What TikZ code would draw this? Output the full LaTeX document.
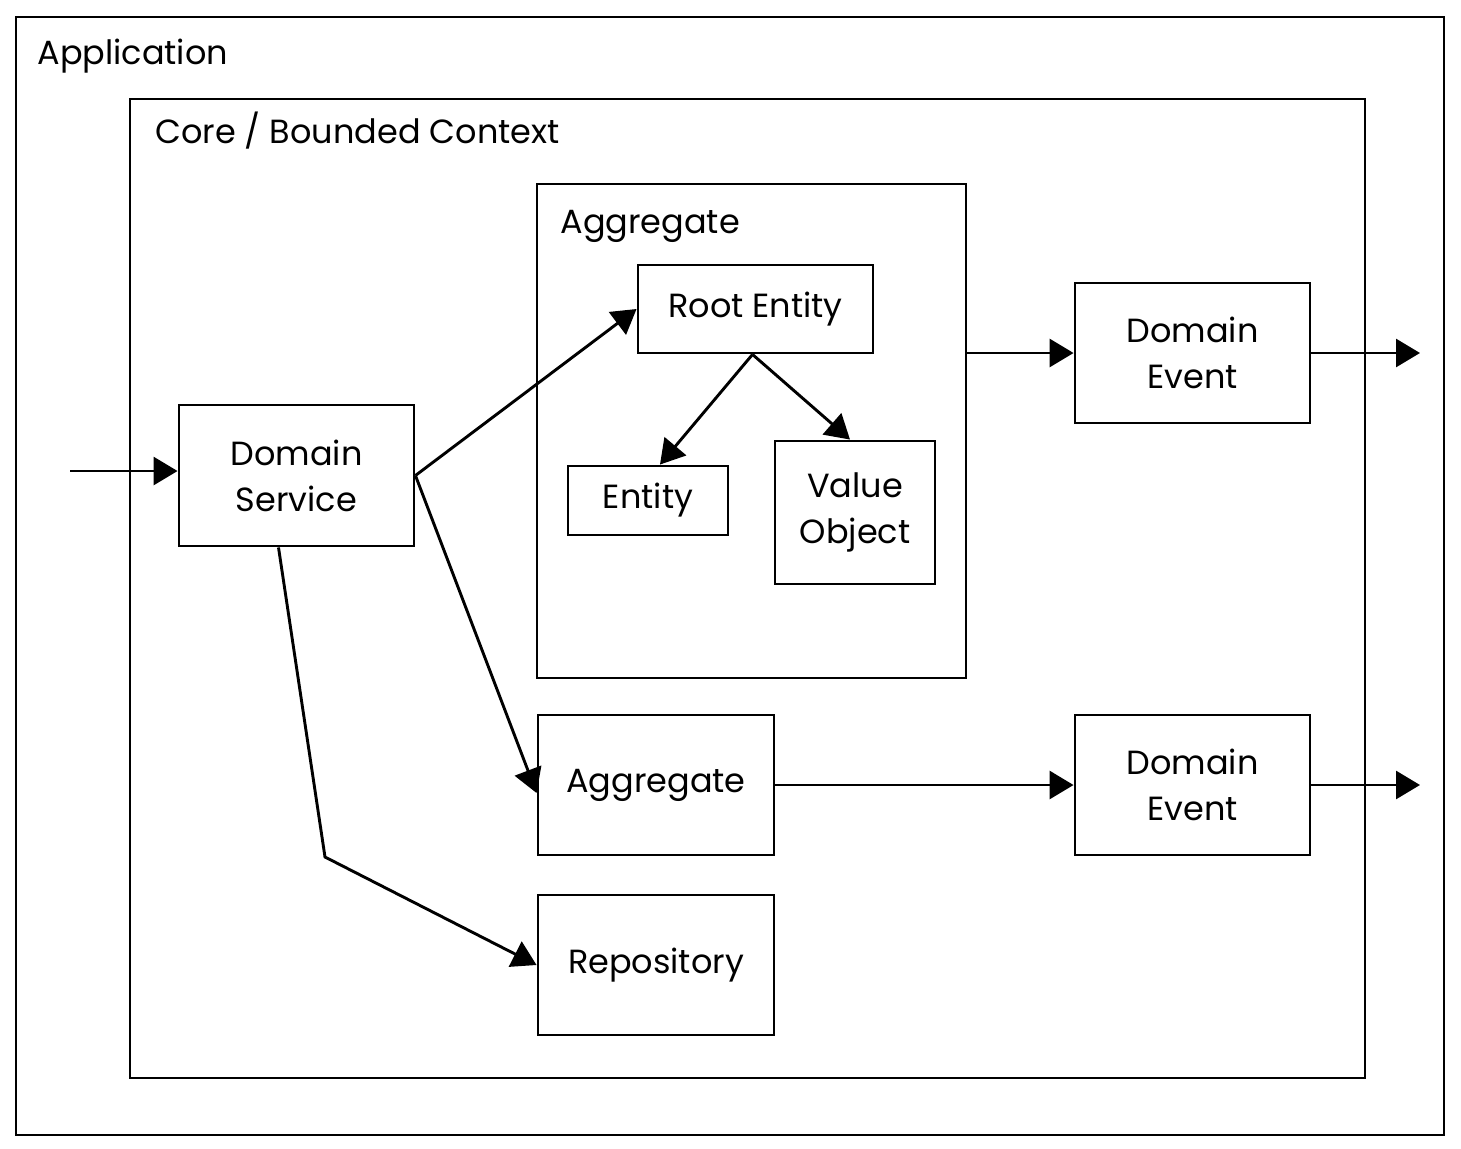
\documentclass[tikz,border=0pt]{standalone}
\usepackage{fontspec}
\setmainfont{Poppins}
\usetikzlibrary{arrows.meta}

\begin{document}
\begin{tikzpicture}[x=1pt, y=-1pt, line width=2.9pt, >={Triangle[length=24pt,width=28pt]}]
    \tikzstyle{frame} = [draw, rectangle, inner sep=0pt]
    \tikzstyle{blk} = [draw, rectangle, align=center, inner sep=0pt, font=\fontsize{33.5}{46}\selectfont]
    \tikzstyle{ttl} = [anchor=base west, inner sep=0pt, font=\fontsize{33.5}{46}\selectfont]

    \useasboundingbox (0,0) rectangle (1461,1148);

    \node[frame, minimum width=1428pt, minimum height=1118pt] (app) at (730,576) {};
    \node[ttl] (applbl) at (36,65) {Application};
    \node[frame, minimum width=1235pt, minimum height=979pt] (core) at (747.5,588.5) {};
    \node[ttl] (corelbl) at (154,143) {Core / Bounded Context};
    \node[frame, minimum width=429pt, minimum height=494pt] (agg) at (751.5,431) {};
    \node[ttl] (agglbl) at (559,233) {Aggregate};

    \node[blk, minimum width=235pt, minimum height=88pt] (root) at (755.5,309) {Root Entity};
    \node[blk, minimum width=160pt, minimum height=69pt] (ent) at (648,500.5) {Entity};
    \node[blk, minimum width=160pt, minimum height=143pt] (val) at (855,512.5) {Value\\Object};
    \node[blk, minimum width=235pt, minimum height=141pt] (dsvc) at (296.5,475.5) {Domain\\Service};
    \node[blk, minimum width=235pt, minimum height=140pt] (evt) at (1192.5,353) {Domain\\Event};
    \node[blk, minimum width=235pt, minimum height=140pt] (evtb) at (1192.5,785) {Domain\\Event};
    \node[blk, minimum width=236pt, minimum height=140pt] (aggb) at (656,785) {Aggregate};
    \node[blk, minimum width=236pt, minimum height=140pt] (repo) at (656,965) {Repository};

    \coordinate (in) at (70,471);
    \coordinate (bend) at (325,857);
    \coordinate (out) at (1420,353);
    \coordinate (outb) at (1420,785);

    \draw[->] (in) -- (in -| dsvc.west);
    \draw[->] (dsvc.east) -- (root.west);
    \draw[->] (dsvc.east) -- ([yshift=-8pt]aggb.west);
    \draw[->] ([xshift=-18pt]dsvc.south) -- (bend) -- (repo.west);
    \draw[->] ([xshift=-3pt]root.south) -- ([xshift=12pt]ent.north);
    \draw[->] ([xshift=-3pt]root.south) -- ([xshift=-5pt]val.north);
    \draw[->] (agg.east |- evt.west) -- (evt.west);
    \draw[->] (evt.east) -- (out);
    \draw[->] (aggb.east) -- (evtb.west);
    \draw[->] (evtb.east) -- (outb);
\end{tikzpicture}
\end{document}
